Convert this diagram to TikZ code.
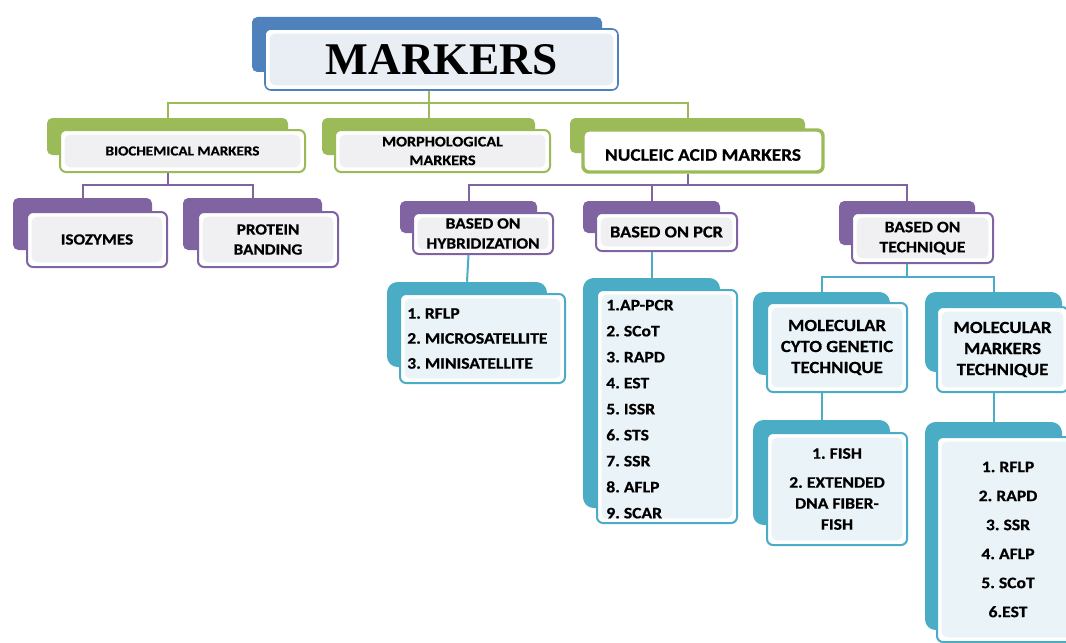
\documentclass[tikz,border=0pt]{standalone}
\usepackage{fontspec}
\setmainfont{Carlito}[FakeStretch=1.1, BoldFeatures={FakeBold=0.6}]
\newfontfamily\titlefont{Liberation Serif}
\usepackage{tikz}
\usetikzlibrary{fit}
\definecolor{mblue}{HTML}{4F81BD}
\definecolor{mgreen}{HTML}{9BBB59}
\definecolor{mpurple}{HTML}{8064A2}
\definecolor{mteal}{HTML}{4BACC6}
\definecolor{pgray}{HTML}{F0F0F2}
\definecolor{pteal}{HTML}{EAF3F7}
\definecolor{pblue}{HTML}{E9EEF5}
\newcommand{\bx}[2]{\bfseries\fontsize{#1}{#2}\selectfont\frenchspacing}

\begin{document}
\begin{tikzpicture}[
  x=0.75pt, y=-0.75pt,
  back/.style={fill=#1, rounded corners=4pt, inner sep=0pt},
  tback/.style={fill=mteal, rounded corners=8pt, inner sep=0pt},
  front/.style={draw=#1, line width=1.5pt, fill=white, rounded corners=4.5pt, inner sep=0pt},
  panel/.style={path picture={\fill[#1]
      ([shift={(3.5pt,-3.5pt)}]path picture bounding box.north west) rectangle
      ([shift={(-3.5pt,3.5pt)}]path picture bounding box.south east);}},
  txt/.style={inner sep=0pt, align=center},
  link/.style={draw=#1, line width=1.5pt}
]
\useasboundingbox (0,0) rectangle (1066,642);
\clip (0,0) rectangle (1066,642);

% title
\node[back=mblue, fit={(252,17) (602,72)}] (titleB) {};
\node[front=mblue, panel=pblue, line width=1.2pt, fit={(265,29) (618,90)}] (title) {};
\node[txt, font=\titlefont\bfseries\fontsize{34}{34}\selectfont] (titleT) at (title) {MARKERS};

% first level
\node[back=mgreen, fit={(47,118) (288,155)}] (bioB) {};
\node[front=mgreen, panel=pgray, fit={(60,130) (305,172)}] (bio) {};
\node[txt, font=\bx{10.3}{12}] (bioT) at (bio) {BIOCHEMICAL MARKERS};
\node[back=mgreen, fit={(322,118) (535,155)}] (morphB) {};
\node[front=mgreen, panel=pgray, fit={(335,130) (550,172)}] (morph) {};
\node[txt, font=\bx{11}{14}] (morphT) at (morph) {MORPHOLOGICAL\\MARKERS};
\node[back=mgreen, fit={(570,118) (805,153)}] (nucB) {};
\node[front=mgreen, line width=2.6pt, fit={(583,130) (823,172)}] (nuc) {};
\node[txt, font=\bx{13.2}{15}] (nucT) at ([yshift=-3pt]nuc.center) {NUCLEIC ACID MARKERS};

% second level
\node[back=mpurple, fit={(13,198) (152,250)}] (isoB) {};
\node[front=mpurple, panel=pgray, fit={(27,212) (167,267)}] (iso) {};
\node[txt, font=\bx{11.7}{15}] (isoT) at (iso) {ISOZYMES};
\node[back=mpurple, fit={(183,198) (322,250)}] (protB) {};
\node[front=mpurple, panel=pgray, fit={(198,212) (338,267)}] (prot) {};
\node[txt, font=\bx{11.7}{15}] (protT) at (prot) {PROTEIN\\BANDING};
\node[back=mpurple, fit={(400,201) (537,233)}] (hybB) {};
\node[front=mpurple, panel=pgray, fit={(413,213) (553,254)}] (hyb) {};
\node[txt, font=\bx{11.8}{15}] (hybT) at (hyb) {BASED ON\\HYBRIDIZATION};
\node[back=mpurple, fit={(583,201) (720,233)}] (pcrB) {};
\node[front=mpurple, panel=pgray, fit={(596,213) (737,251)}] (pcr) {};
\node[txt, font=\bx{12.5}{15}] (pcrT) at (pcr) {BASED ON PCR};
\node[back=mpurple, fit={(839,201) (975,245)}] (techB) {};
\node[front=mpurple, panel=pgray, fit={(852,213) (993,263)}] (tech) {};
\node[txt, font=\bx{12}{15}] (techT) at (tech) {BASED ON\\TECHNIQUE};

% lists and techniques
\node[tback, fit={(387,282) (547,367)}] (hlistB) {};
\node[front=mteal, panel=pteal, fit={(400,294) (565,383)}] (hlist) {};
\node[txt, align=left, font=\bx{12}{18.75}, anchor=west] (hlistT) at ([xshift=6pt]hlist.west)
  {1. RFLP\\2. MICROSATELLITE\\3. MINISATELLITE};
\node[tback, fit={(583,278) (720,508)}] (plistB) {};
\node[front=mteal, panel=pteal, fit={(597,290) (737,523)}] (plist) {};
\node[txt, align=left, font=\bx{12}{19.5}, anchor=west] (plistT) at ([xshift=7.5pt,yshift=-2pt]plist.west)
  {1.AP-PCR\\2. SCoT\\3. RAPD\\4. EST\\5. ISSR\\6. STS\\7. SSR\\8. AFLP\\9. SCAR};
\node[tback, fit={(753,292) (890,375)}] (cytoB) {};
\node[front=mteal, panel=pteal, fit={(767,303) (907,392)}] (cyto) {};
\node[txt, font=\bx{12.8}{15.75}] (cytoT) at (cyto) {MOLECULAR\\CYTO GENETIC\\TECHNIQUE};
\node[tback, fit={(925,292) (1062,372)}] (moltB) {};
\node[front=mteal, panel=pteal, fit={(937,307) (1068,392)}] (molt) {};
\node[txt, font=\bx{12.8}{15.75}] (moltT) at (molt) {MOLECULAR\\MARKERS\\TECHNIQUE};
\node[tback, fit={(753,420) (890,525)}] (fishB) {};
\node[front=mteal, panel=pteal, fit={(767,433) (907,545)}] (fish) {};
\node[txt, font=\bx{12}{15.75}] (fishT) at (fish) {1. FISH\\[6pt]2. EXTENDED\\DNA FIBER-\\FISH};
\node[tback, fit={(925,422) (1062,630)}] (mlistB) {};
\node[front=mteal, panel=pteal, fit={(937,437) (1079,642)}] (mlist) {};
\node[txt, font=\bx{12}{21.75}] (mlistT) at (mlist) {1. RFLP\\2. RAPD\\3. SSR\\4. AFLP\\5. SCoT\\6.EST};

% connectors
\coordinate (gbus) at (0,103);
\coordinate (pbus) at (0,185);
\coordinate (tbus) at (0,277);
\draw[link=mgreen] (morphB.north |- title.south) -- (morphB.north);
\draw[link=mgreen] (bioB.north) -- (bioB.north |- gbus) -- (nucB.north |- gbus) -- (nucB.north);
\draw[link=mpurple] (bioB |- bio.south) -- (bioB |- pbus);
\draw[link=mpurple] (isoB.north) -- (isoB.north |- pbus) -- (protB.north |- pbus) -- (protB.north);
\draw[link=mpurple] (nucB |- nuc.south) -- (nucB |- pbus);
\draw[link=mpurple] (hybB.north) -- (hybB.north |- pbus) -- (techB.north |- pbus) -- (techB.north);
\draw[link=mpurple] (pcrB.north) -- (pcrB.north |- pbus);
\draw[link=mteal] (hybB |- hyb.south) -- (hlistB.north);
\draw[link=mteal] (pcrB |- pcr.south) -- (plistB.north);
\draw[link=mteal] (techB |- tech.south) -- (techB |- tbus);
\draw[link=mteal] (cytoB.north) -- (cytoB.north |- tbus) -- (moltB.north |- tbus) -- (moltB.north);
\draw[link=mteal] (cytoB |- cyto.south) -- (fishB.north);
\draw[link=mteal] (moltB |- molt.south) -- (mlistB.north);
\end{tikzpicture}
\end{document}
